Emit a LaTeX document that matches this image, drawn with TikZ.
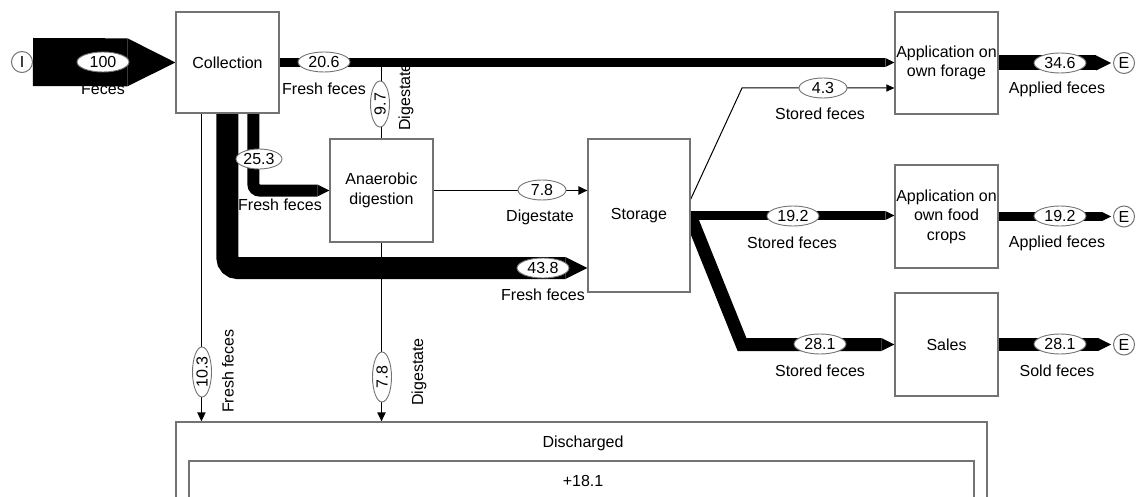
\documentclass[tikz,border=0pt]{standalone}
\usepackage{fontspec}
\setmainfont{Liberation Sans}
\usetikzlibrary{arrows.meta,calc,shapes.geometric}
\pgfdeclarelayer{bg}
\pgfsetlayers{bg,main}
\begin{document}
\begin{tikzpicture}[x=1pt,y=-1pt,
  font=\fontsize{16}{19.5}\selectfont,
  box/.style={draw=black!55, line width=1.1pt, fill=white, rectangle, inner sep=0pt, align=center},
  term/.style={draw=black!55, line width=1pt, fill=white, circle, minimum size=21pt, inner sep=0pt},
  val/.style={draw=black!55, line width=0.9pt, fill=white, ellipse, minimum width=52pt, minimum height=20pt, inner sep=0pt},
  vval/.style={val, rotate=90},
  lbl/.style={inner sep=0pt},
  band/.style={line width=#1, -{Triangle[length=0pt 1, width=0pt 1, line width=0pt]}},
  thin/.style={line width=1.8pt, -{Triangle[length=9pt, width=8pt]}},
  plain/.style={line width=1.8pt},
]
\useasboundingbox (0,0) rectangle (1139,497);
\clip (0,0) rectangle (1139,497);

% boxes
\node[box, minimum width=103pt, minimum height=101pt] (coll) at (227.5,62.5) {Collection};
\node[box, minimum width=103pt, minimum height=102pt] (forage) at (946.5,63) {Application on\\own forage};
\node[box, minimum width=103pt, minimum height=103pt] (ad) at (381.5,190.5) {Anaerobic\\digestion};
\node[box, minimum width=102pt, minimum height=153pt] (stor) at (639,215.5) {Storage};
\node[box, minimum width=103pt, minimum height=103pt] (food) at (946.5,216.5) {Application on\\own food\\crops};
\node[box, minimum width=103pt, minimum height=103pt] (sales) at (946.5,344.5) {Sales};
\node[box, minimum width=811pt, minimum height=140pt] (disch) at (581.5,492) {};
\node[box, minimum width=785pt, minimum height=100pt] (inner) at (581.5,511) {};
\node[lbl] (dischl) at (583,443) {Discharged};
\node[lbl] (dischv) at (583,481) {+18.1};

% terminals
\node[term] (I) at (22,62) {I};
\node[term] (E1) at (1124,63) {E};
\node[term] (E2) at (1124,216.5) {E};
\node[term] (E3) at (1124,344.5) {E};

% helper coordinates
\coordinate (c1) at ($(coll.south west)+(26,0)$);
\coordinate (c3) at ($(coll.south west)+(52,0)$);
\coordinate (c2) at ($(coll.south west)+(78,0)$);
\coordinate (s1) at ($(stor.west)+(0,52.5)$);
\coordinate (s2) at ($(stor.east)+(0,-16)$);
\coordinate (k1) at (742,88);
\coordinate (f1) at ($(forage.west)+(0,25)$);
\coordinate (k2) at (742,344.5);

\begin{pgfonlayer}{bg}
\draw[band=48pt] (I.east) -- (coll.west);
\draw[band=9pt] (coll.east) -- (coll.east -| forage.west);
\draw[plain] (ad.north) -- (ad.north |- coll.east);
\draw[band=12pt, rounded corners=6pt] (c2) |- (ad.west);
\draw[band=22pt, rounded corners=10pt] (c3) |- (s1);
\draw[thin] (c1) -- (c1 |- disch.north);
\draw[thin] (ad.east) -- (ad.east -| stor.west);
\draw[thin] (ad.south) -- (ad.south |- disch.north);
\draw[line width=1pt, -{Triangle[length=8pt, width=7pt]}] (s2) -- (k1) -- (f1);
\draw[band=9pt] (stor.east) -- (stor.east -| food.west);
\draw[band=13pt, line join=miter] ($(stor.east)+(0,1)$) -- (k2) -- (sales.west);
\draw[band=15pt, shorten >=2pt] (forage.east) -- (E1.west);
\draw[band=9pt, shorten >=2pt] (food.east) -- (E2.west);
\draw[band=13pt, shorten >=2pt] (sales.east) -- (E3.west);
\end{pgfonlayer}

% values
\node[val] (v100) at (103,62) {100};
\node[val] (v206) at (324,62) {20.6};
\node[vval, minimum width=46pt, minimum height=19pt] (v97) at (380,104) {9.7};
\node[val, minimum width=46pt] (v253) at (259,159) {25.3};
\node[val] (v438) at (543,268) {43.8};
\node[val, minimum width=48pt] (v78a) at (542,190) {7.8};
\node[vval, minimum width=50pt, minimum height=19pt] (v103) at (202,372) {10.3};
\node[vval, minimum width=50pt, minimum height=19pt] (v78b) at (382,377) {7.8};
\node[val, minimum width=48pt] (v43) at (823,88) {4.3};
\node[val] (v192a) at (793,216) {19.2};
\node[val] (v281a) at (820,344) {28.1};
\node[val] (v346) at (1060,63) {34.6};
\node[val] (v192b) at (1060,216) {19.2};
\node[val] (v281b) at (1060,344) {28.1};

% labels
\node[lbl] (t1) at (103,89) {Feces};
\node[lbl] (t2) at (324,89) {Fresh feces};
\node[lbl, rotate=90] (t3) at (406,97) {Digestate};
\node[lbl] (t4) at (280,205) {Fresh feces};
\node[lbl] (t5) at (540,217) {Digestate};
\node[lbl] (t6) at (543,295) {Fresh feces};
\node[lbl, rotate=90] (t7) at (228,371) {Fresh feces};
\node[lbl, rotate=90] (t8) at (419,372) {Digestate};
\node[lbl] (t9) at (820,114) {Stored feces};
\node[lbl] (t10) at (792,243) {Stored feces};
\node[lbl] (t11) at (820,371) {Stored feces};
\node[lbl] (t12) at (1057,89) {Applied feces};
\node[lbl] (t13) at (1057,243) {Applied feces};
\node[lbl] (t14) at (1057,371) {Sold feces};
\end{tikzpicture}
\end{document}
